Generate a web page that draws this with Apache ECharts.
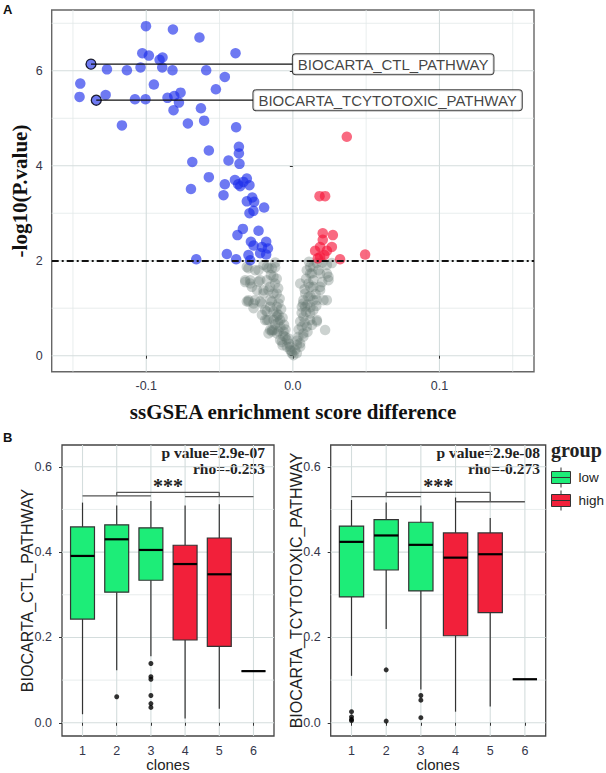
<!DOCTYPE html>
<html><head><meta charset="utf-8">
<script src="https://cdn.jsdelivr.net/npm/echarts@6/dist/echarts.min.js"></script>
<style>html,body{margin:0;padding:0;background:#fff}#c{width:606px;height:773px}</style>
</head><body><div id="c"></div>
<script>
// ---------------- DATA ----------------
const volcanoXRange = [-0.1645, 0.1645];
const volcanoYRange = [-0.337, 7.28];
const volcanoXTicks = [-0.1, 0, 0.1];
const volcanoXMinor = [-0.15, -0.05, 0.05, 0.15];
const volcanoYTicks = [0, 2, 4, 6];
const volcanoYMinor = [1, 3, 5, 7];
const pThreshold = 2;

// significantly down (blue)
const downPoints = [
  [-0.1002,6.94],[-0.0818,6.87],[-0.0637,6.70],[-0.0391,6.37],[-0.1027,6.37],[-0.0982,6.32],
  [-0.0889,6.28],[-0.0909,6.23],[-0.0891,6.07],[-0.1039,6.07],[-0.0821,6.01],[-0.0591,6.01],
  [-0.1132,6.01],[-0.1268,6.03],[-0.1377,6.14],[-0.0464,5.87],[-0.1450,5.73],[-0.0948,5.71],
  [-0.0525,5.61],[-0.1455,5.45],[-0.1277,5.49],[-0.1341,5.38],[-0.1077,5.40],[-0.1005,5.40],
  [-0.0855,5.43],[-0.0809,5.47],[-0.0766,5.54],[-0.0777,5.33],[-0.0814,5.17],[-0.0627,5.21],
  [-0.0716,4.89],[-0.0605,4.95],[-0.1166,4.85],[-0.0387,4.81],[-0.0368,4.40],[-0.0368,4.26],
  [-0.0364,4.04],[-0.0573,4.32],[-0.0439,4.11],[-0.0686,4.08],[-0.0573,3.76],[-0.0464,3.61],
  [-0.0395,3.70],[-0.0373,3.61],[-0.0359,3.57],[-0.0314,3.73],[-0.0296,3.59],[-0.0337,3.66],
  [-0.0695,3.51],[-0.0473,3.38],[-0.0277,3.33],[-0.0314,3.25],[-0.0264,3.24],[-0.0196,3.12],
  [-0.0269,3.05],[-0.0296,3.00],[-0.0341,2.67],[-0.0378,2.54],[-0.0234,2.63],[-0.0286,2.40],
  [-0.0268,2.32],[-0.0211,2.29],[-0.0182,2.40],[-0.0170,2.26],[-0.0223,2.16],[-0.0182,2.13],
  [-0.0450,2.14],[-0.0387,2.03],[-0.0303,2.12],[-0.0291,2.01],[-0.0659,2.03]
];
// significantly up (red)
const upPoints = [
  [0.0368,4.61],[0.0182,3.36],[0.0220,3.36],[0.0204,2.58],[0.0273,2.54],[0.0204,2.44],
  [0.0266,2.29],[0.0186,2.29],[0.0152,2.21],[0.0232,2.21],[0.0186,2.08],[0.0322,2.03],
  [0.0493,2.13],[0.0170,2.05],[0.0215,2.12]
];
// not significant (grey)
const nsPoints = [
  [-0.0303,1.84],[-0.0257,1.80],[-0.0200,1.91],[-0.0143,1.84],[-0.0132,1.66],[-0.0177,1.59],
  [-0.0234,1.56],[-0.0325,1.59],[-0.0290,1.52],[-0.0155,1.45],[-0.0132,1.31],[-0.0200,1.38],
  [-0.0257,1.17],[-0.0303,1.17],[-0.0223,1.14],[-0.0143,1.14],[-0.0110,1.03],[-0.0189,0.96],
  [-0.0132,0.93],[-0.0268,1.00],[-0.0110,0.82],[-0.0177,0.75],[-0.0087,0.75],[-0.0143,0.54],
  [-0.0098,0.51],[-0.0052,0.40],[-0.0075,0.29],[-0.0018,0.19],[-0.0007,0.05],
  [-0.0314,1.87],[-0.0234,1.80],[-0.0166,1.84],[-0.0121,1.86],[-0.0291,1.59],[-0.0223,1.59],
  [-0.0166,1.38],[-0.0314,1.14],[-0.0268,1.10],[-0.0211,1.10],[-0.0155,1.03],[-0.0177,0.93],
  [-0.0189,0.75],[-0.0132,0.75],[-0.0098,0.86],[-0.0143,0.51],[-0.0064,0.51],[-0.0109,0.47],
  [-0.0041,0.33],[-0.0018,0.12],[0.0004,0.01],
  [-0.0325,1.55],[-0.0303,1.14],[-0.0211,0.86],[-0.0166,0.75],[-0.0132,0.54],[-0.0087,0.33],
  [-0.0041,0.19],[-0.0177,1.87],[-0.0121,1.52],[-0.0110,1.31],[-0.0098,1.10],[-0.0155,1.17],
  [-0.0200,1.31],[-0.0245,1.38],[-0.0280,1.45],[-0.0110,0.89],[-0.0155,0.54],[-0.0166,0.47],
  [-0.0120,1.96],[-0.0150,1.70],[-0.0110,1.62],[-0.0100,1.42],[-0.0090,1.20],[-0.0080,0.98],
  [-0.0070,0.80],[-0.0060,0.65],[-0.0050,0.55],[-0.0030,0.36],[-0.0025,0.25],[-0.0010,0.10],
  [-0.0120,0.66],[-0.0085,0.60],[-0.0065,0.42],[-0.0100,0.70],[-0.0070,0.22],
  [0.0118,1.73],[0.0175,1.80],[0.0232,1.73],[0.0140,1.59],[0.0243,1.59],[0.0118,1.45],
  [0.0186,1.38],[0.0106,1.24],[0.0232,1.17],[0.0164,1.17],[0.0084,1.03],[0.0140,0.96],
  [0.0072,0.82],[0.0164,0.75],[0.0061,0.61],[0.0220,0.54],[0.0038,0.40],[0.0027,0.23],
  [0.0130,0.65],[0.0095,1.80],[0.0130,1.73],[0.0186,1.73],[0.0140,1.45],[0.0186,1.45],
  [0.0209,1.17],[0.0140,1.17],[0.0118,0.89],[0.0095,0.61],[0.0072,0.40],[0.0050,0.19],
  [0.0027,0.05],[0.0084,1.31],[0.0106,1.52],[0.0118,1.87],[0.0164,1.95],[0.0232,1.91],
  [0.0061,1.03],[0.0164,0.72],[0.0243,1.66],[0.0266,1.95],[0.0050,1.52],[0.0072,1.17],
  [0.0118,0.75],[0.0072,0.47],[0.0050,0.26],
  [0.0110,1.98],[0.0140,1.88],[0.0200,1.96],[0.0090,1.62],[0.0080,1.40],[0.0070,1.10],
  [0.0100,1.08],[0.0060,0.90],[0.0090,0.92],[0.0050,0.72],[0.0080,0.70],[0.0040,0.55],
  [0.0100,0.50],[0.0030,0.32],[0.0015,0.12],[0.0120,1.25],[0.0155,1.30],[0.0200,1.55],
  [0.0160,1.05],[0.0120,1.02]
];
const annotNames = ['BIOCARTA_CTL_PATHWAY', 'BIOCARTA_TCYTOTOXIC_PATHWAY'];
const annotPoints = [[-0.1377, 6.14], [-0.1341, 5.38]];
const annotLabelX = [0.0, -0.0269];

const clones = [1, 2, 3, 4, 5, 6];
const cloneGroup = ['low', 'low', 'low', 'high', 'high', 'high'];
const boxXRange = [0.4, 6.6];
const boxYRange = [-0.031, 0.651];
const boxYTicks = [0, 0.2, 0.4, 0.6];
const boxYMinor = [0.1, 0.3, 0.5];
// [lower whisker, Q1, median, Q3, upper whisker]
const ctlBoxes = [
  [0.020,0.243,0.391,0.459,0.516],[0.123,0.306,0.430,0.464,0.509],[0.156,0.334,0.405,0.457,0.520],
  [0.010,0.194,0.372,0.416,0.509],[0.033,0.179,0.348,0.433,0.512],[0.121,0.121,0.121,0.121,0.121]
];
const ctlOutliers = [[2,0.061],[3,0.139],[3,0.108],[3,0.102],[3,0.064],[3,0.045],[3,0.036]];
const tcytoBoxes = [
  [0.110,0.295,0.424,0.461,0.522],[0.220,0.358,0.439,0.476,0.516],[0.078,0.309,0.417,0.470,0.509],
  [0.026,0.204,0.387,0.445,0.528],[0.038,0.258,0.395,0.445,0.480],[0.102,0.102,0.102,0.102,0.102]
];
const tcytoOutliers = [[1,0.026],[1,0.014],[1,0.008],[1,0.005],[2,0.124],[2,0.004],[3,0.064],[3,0.053],[3,0.012]];
// significance brackets (polylines)
const ctlBrackets = [
  [[1,0.532],[3,0.532]], [[2,0.532],[2,0.540],[5,0.540],[5,0.530]], [[4,0.530],[6,0.530]]
];
const tcytoBrackets = [
  [[1,0.530],[3,0.530]], [[2,0.530],[2,0.540],[5,0.540],[5,0.518]], [[4,0.518],[6,0.518]]
];
const sigPos = [3.5, 0.555];
const sigText = '***';
const ctlStats = ['p value=2.9e-07', 'rho=-0.253'];
const tcytoStats = ['p value=2.9e-08', 'rho=-0.273'];

// ---------------- STYLE ----------------
const GREEN = '#1ded78', RED = '#f2203a';
const TICK_COLOR = '#34364a';
const SERIF = "'Liberation Serif', 'DejaVu Serif', serif";
const SANS = "'Liberation Sans', Arial, sans-serif";
const BOX_HALF = 0.35;

function gridLineData(xMajor, xMinor, yMajor, yMinor) {
  const d = [];
  xMinor.forEach(v => d.push([0, v, 0]));
  yMinor.forEach(v => d.push([1, v, 0]));
  xMajor.forEach(v => d.push([0, v, 1]));
  yMajor.forEach(v => d.push([1, v, 1]));
  return d;
}
function gridLineRender(params, api) {
  const cs = params.coordSys;
  const vertical = api.value(0) === 0;
  const v = api.value(1);
  const major = api.value(2) === 1;
  const style = { stroke: major ? '#d4dddd' : '#e2e8e8', lineWidth: major ? 1.1 : 0.8 };
  if (vertical) {
    const x = api.coord([v, 0])[0];
    return { type: 'line', shape: { x1: x, y1: cs.y, x2: x, y2: cs.y + cs.height }, style };
  }
  const y = api.coord([0, v])[1];
  return { type: 'line', shape: { x1: cs.x, y1: y, x2: cs.x + cs.width, y2: y }, style };
}
function boxRender(params, api) {
  const c = api.value(0);
  const lo = api.coord([c, api.value(1)]);
  const q1 = api.coord([c, api.value(2)]);
  const md = api.coord([c, api.value(3)]);
  const q3 = api.coord([c, api.value(4)]);
  const hi = api.coord([c, api.value(5)]);
  const left = api.coord([c - BOX_HALF, 0])[0];
  const right = api.coord([c + BOX_HALF, 0])[0];
  const x = lo[0];
  const fill = api.visual('color');
  const ln = (x1, y1, x2, y2, w, col) => ({ type: 'line', shape: { x1, y1, x2, y2 }, style: { stroke: col, lineWidth: w } });
  return { type: 'group', children: [
    ln(x, hi[1], x, q3[1], 1.2, '#333'),
    ln(x, q1[1], x, lo[1], 1.2, '#333'),
    { type: 'rect', shape: { x: left, y: q3[1], width: right - left, height: q1[1] - q3[1] }, style: { fill, stroke: '#333', lineWidth: 1.2 } },
    ln(left, md[1], right, md[1], 2.2, '#000')
  ] };
}
function segRender(params, api) {
  const a = api.coord([api.value(0), api.value(1)]);
  const b = api.coord([api.value(2), api.value(3)]);
  return { type: 'line', shape: { x1: a[0], y1: a[1], x2: b[0], y2: b[1] }, style: { stroke: '#555', lineWidth: 1.3 } };
}
function starRender(params, api) {
  const p = api.coord([api.value(0), api.value(1)]);
  return { type: 'text', x: p[0], y: p[1],
    style: { text: sigText, font: "bold 20px " + SERIF, fill: '#222', textAlign: 'center', textVerticalAlign: 'middle', align: 'center', verticalAlign: 'middle' } };
}
function bracketSegments(brackets) {
  const segs = [];
  brackets.forEach(b => { for (let i = 0; i < b.length - 1; i++) segs.push([b[i][0], b[i][1], b[i + 1][0], b[i + 1][1]]); });
  return segs;
}
function boxData(boxes, group) {
  const out = [];
  clones.forEach((c, i) => { if (cloneGroup[i] === group) out.push([c].concat(boxes[i])); });
  return out;
}
function tickAxis(grid, range, ticks, fmt, fontSize, margin) {
  return {
    type: 'value', gridIndex: grid, min: range[0], max: range[1],
    axisLine: { show: false },
    splitLine: { show: false },
    axisTick: { show: true, customValues: ticks, length: 3, lineStyle: { color: '#333', width: 1 } },
    axisLabel: { customValues: ticks, formatter: fmt, color: TICK_COLOR, fontSize, fontFamily: SANS, margin }
  };
}

const chart = echarts.init(document.getElementById('c'), null, { renderer: 'svg' });
const series = [];

// ---- volcano ----
series.push({ type: 'custom', xAxisIndex: 0, yAxisIndex: 0, z: 0, silent: true,
  renderItem: gridLineRender, data: gridLineData(volcanoXTicks, volcanoXMinor, volcanoYTicks, volcanoYMinor) });
series.push({ type: 'scatter', xAxisIndex: 0, yAxisIndex: 0, z: 2, symbolSize: 10.5,
  itemStyle: { color: 'rgba(95,115,110,0.4)' }, data: nsPoints });
series.push({ type: 'scatter', xAxisIndex: 0, yAxisIndex: 0, z: 3, symbolSize: 10.5,
  itemStyle: { color: 'rgba(28,45,235,0.8)' }, data: downPoints });
series.push({ type: 'scatter', xAxisIndex: 0, yAxisIndex: 0, z: 3, symbolSize: 10.5,
  itemStyle: { color: 'rgba(246,22,58,0.8)' }, data: upPoints });
series.push({ type: 'line', xAxisIndex: 0, yAxisIndex: 0, z: 4, data: [], silent: true,
  markLine: { silent: true, symbol: 'none', label: { show: false },
    lineStyle: { color: '#111', width: 2, type: [7, 3, 2, 3] }, data: [{ yAxis: pThreshold }] } });
annotPoints.forEach((p, i) => {
  series.push({ type: 'line', xAxisIndex: 0, yAxisIndex: 0, z: 5, symbol: 'none', silent: true,
    lineStyle: { color: '#111', width: 1.2 }, data: [p, [annotLabelX[i], p[1]]] });
});
series.push({ type: 'scatter', xAxisIndex: 0, yAxisIndex: 0, z: 5, symbolSize: 10,
  itemStyle: { color: 'rgba(0,0,0,0)', borderColor: '#000', borderWidth: 1.3 }, data: annotPoints });
series.push({ type: 'scatter', xAxisIndex: 0, yAxisIndex: 0, z: 6, symbolSize: 0, silent: true,
  data: annotNames.map((n, i) => ({ name: n, value: [annotLabelX[i], annotPoints[i][1]] })),
  label: { show: true, position: 'right', distance: 0, formatter: '{b}', fontFamily: SANS, fontSize: 15,
    color: '#111', backgroundColor: '#fff', borderColor: '#111', borderWidth: 1, borderRadius: 3,
    padding: [3, 5, 2, 5] } });

// ---- box panels ----
function addBoxPanel(axisIdx, boxes, outliers, brackets) {
  series.push({ type: 'custom', xAxisIndex: axisIdx, yAxisIndex: axisIdx, z: 0, silent: true,
    renderItem: gridLineRender, data: gridLineData(clones, [], boxYTicks, boxYMinor) });
  [['low', GREEN], ['high', RED]].forEach(([g, col]) => {
    series.push({ type: 'custom', name: g, xAxisIndex: axisIdx, yAxisIndex: axisIdx, z: 2,
      itemStyle: { color: col }, renderItem: boxRender, encode: { x: 0, y: [1, 2, 3, 4, 5] },
      data: boxData(boxes, g) });
  });
  series.push({ type: 'scatter', xAxisIndex: axisIdx, yAxisIndex: axisIdx, z: 3, symbolSize: 5,
    itemStyle: { color: '#000' }, data: outliers });
  series.push({ type: 'custom', xAxisIndex: axisIdx, yAxisIndex: axisIdx, z: 3, silent: true,
    renderItem: segRender, encode: { x: [0, 2], y: [1, 3] }, data: bracketSegments(brackets) });
  series.push({ type: 'custom', xAxisIndex: axisIdx, yAxisIndex: axisIdx, z: 4, silent: true,
    renderItem: starRender, encode: { x: 0, y: 1 }, data: [sigPos] });
}
addBoxPanel(1, ctlBoxes, ctlOutliers, ctlBrackets);
addBoxPanel(2, tcytoBoxes, tcytoOutliers, tcytoBrackets);

const f1 = v => v.toFixed(1);
const f0 = v => String(Math.round(v));
const boxIcon = 'path://M9.5,0 L9.5,4 M0,4 L19,4 L19,10 L0,10 Z M0,10 L19,10 L19,16 L0,16 Z M9.5,16 L9.5,20';

const statText = (x, y, t) => ({ type: 'text', x, y,
  style: { text: t, font: "bold 15.5px " + SERIF, fill: '#222', textAlign: 'right', textVerticalAlign: 'middle' } });

const option = {
  animation: false,
  backgroundColor: '#fff',
  grid: [
    { left: 51.7, top: 10, width: 482.3, height: 361.7, show: true, borderColor: '#666', borderWidth: 1.4, backgroundColor: 'transparent' },
    { left: 62, top: 445, width: 212, height: 291, show: true, borderColor: '#444', borderWidth: 1.3, backgroundColor: 'transparent' },
    { left: 330.7, top: 445, width: 215, height: 291, show: true, borderColor: '#444', borderWidth: 1.3, backgroundColor: 'transparent' }
  ],
  xAxis: [
    tickAxis(0, volcanoXRange, volcanoXTicks, f1, 12.5, 8),
    tickAxis(1, boxXRange, clones, f0, 12.5, 8),
    tickAxis(2, boxXRange, clones, f0, 12.5, 8)
  ],
  yAxis: [
    tickAxis(0, volcanoYRange, volcanoYTicks, f0, 12.5, 9),
    tickAxis(1, boxYRange, boxYTicks, f1, 12.5, 10),
    tickAxis(2, boxYRange, boxYTicks, f1, 12.5, 10)
  ],
  legend: {
    left: 551, top: 467, orient: 'vertical', padding: 0, itemWidth: 19, itemHeight: 20, itemGap: 2,
    icon: boxIcon, selectedMode: false,
    textStyle: { fontFamily: SANS, fontSize: 13.5, color: '#222', padding: [0, 0, 0, 3] },
    data: [
      { name: 'low', itemStyle: { color: GREEN, borderColor: '#333', borderWidth: 1 } },
      { name: 'high', itemStyle: { color: RED, borderColor: '#333', borderWidth: 1 } }
    ]
  },
  graphic: [
    { type: 'text', x: 3, y: 3, style: { text: 'A', font: "bold 13px " + SANS, fill: '#111' } },
    { type: 'text', x: 3, y: 431, style: { text: 'B', font: "bold 13px " + SANS, fill: '#111' } },
    { type: 'text', x: 20, y: 191, rotation: Math.PI / 2,
      style: { text: '-log10(P.value)', font: "bold 21px " + SERIF, fill: '#111', textAlign: 'center', textVerticalAlign: 'middle' } },
    { type: 'text', x: 293, y: 412,
      style: { text: 'ssGSEA enrichment score difference', font: "bold 21px " + SERIF, fill: '#111', textAlign: 'center', textVerticalAlign: 'middle' } },
    { type: 'text', x: 27, y: 590.5, rotation: Math.PI / 2,
      style: { text: 'BIOCARTA_CTL_PATHWAY', font: "16px " + SANS, fill: '#222', textAlign: 'center', textVerticalAlign: 'middle' } },
    { type: 'text', x: 296, y: 590.5, rotation: Math.PI / 2,
      style: { text: 'BIOCARTA_TCYTOTOXIC_PATHWAY', font: "16px " + SANS, fill: '#222', textAlign: 'center', textVerticalAlign: 'middle' } },
    { type: 'text', x: 168, y: 764.5,
      style: { text: 'clones', font: "15px " + SANS, fill: '#222', textAlign: 'center', textVerticalAlign: 'middle' } },
    { type: 'text', x: 438, y: 764.5,
      style: { text: 'clones', font: "15px " + SANS, fill: '#222', textAlign: 'center', textVerticalAlign: 'middle' } },
    statText(265, 452.5, ctlStats[0]),
    statText(265, 468.5, ctlStats[1]),
    statText(540, 452.5, tcytoStats[0]),
    statText(540, 468.5, tcytoStats[1]),
    { type: 'text', x: 551, y: 450,
      style: { text: 'group', font: "bold 20px " + SERIF, fill: '#222', textAlign: 'left', textVerticalAlign: 'middle' } }
  ],
  series
};
chart.setOption(option);
</script></body></html>
